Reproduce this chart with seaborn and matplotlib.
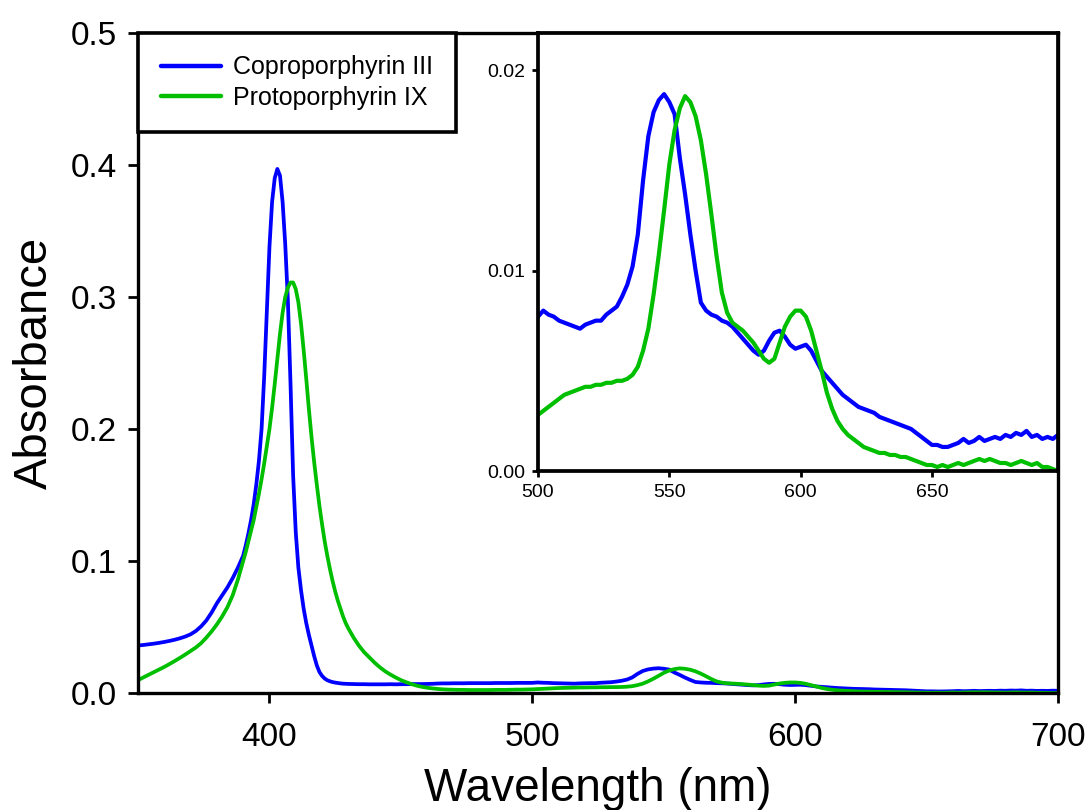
import numpy as np
import pandas as pd
import matplotlib
matplotlib.use("Agg")
import matplotlib.pyplot as plt
import seaborn as sns

# ---------------- data ----------------
wavelength = np.concatenate([
    np.arange(350, 391, 2),   # 21 pts
    np.arange(391, 431, 1),   # 40 pts
    np.arange(432, 499, 2),   # 34 pts
    np.arange(500, 701, 2),   # 101 pts
])

copro_iii = [
    # 350-390 (step 2)
    0.0360, 0.0364, 0.0369, 0.0374, 0.0380, 0.0387, 0.0395, 0.0404, 0.0415, 0.0428,
    0.0445, 0.0470, 0.0505, 0.0550, 0.0610, 0.0680, 0.0740, 0.0800, 0.0870, 0.0950,
    0.1040,
    # 391-430 (step 1)
    0.112, 0.121, 0.131, 0.143, 0.158, 0.176, 0.200, 0.240, 0.290, 0.338,
    0.372, 0.390, 0.397, 0.392, 0.372, 0.340, 0.298, 0.235, 0.165, 0.122,
    0.095, 0.078, 0.064, 0.053, 0.044, 0.036, 0.028, 0.021, 0.016, 0.013,
    0.011, 0.0097, 0.0089, 0.0083, 0.0079, 0.0076, 0.0073, 0.0071, 0.0070, 0.0069,
    # 432-498 (step 2)
    0.0068, 0.0067, 0.0067, 0.0066, 0.0066, 0.0066, 0.0066, 0.0067, 0.0066, 0.0067,
    0.0067, 0.0068, 0.0068, 0.0068, 0.0069, 0.0070, 0.0072, 0.0073, 0.0073, 0.0074,
    0.0074, 0.0074, 0.0075, 0.0075, 0.0075, 0.0075, 0.0075, 0.0076, 0.0076, 0.0076,
    0.0076, 0.0077, 0.0077, 0.0077,
    # 500-700 (step 2)
    0.0077, 0.0080, 0.0078, 0.0077, 0.0075, 0.0074, 0.0073, 0.0072, 0.0071, 0.0073,
    0.0074, 0.0075, 0.0075, 0.0078, 0.0080, 0.0082, 0.0087, 0.0093, 0.0102, 0.0118,
    0.0145, 0.0167, 0.0179, 0.0185, 0.0188, 0.0184, 0.0178, 0.0156, 0.0138, 0.0118,
    0.0100, 0.0084, 0.0080, 0.0078, 0.0077, 0.0075, 0.0074, 0.0072, 0.0069, 0.0066,
    0.0063, 0.0060, 0.0058, 0.0060, 0.0065, 0.0069, 0.0070, 0.0067, 0.0063, 0.0061,
    0.0062, 0.0063, 0.0060, 0.0055, 0.0050, 0.0047, 0.0044, 0.0041, 0.0038, 0.0036,
    0.0034, 0.0032, 0.0031, 0.0030, 0.0029, 0.0027, 0.0026, 0.0025, 0.0024, 0.0023,
    0.0022, 0.0021, 0.0019, 0.0017, 0.0015, 0.0013, 0.0013, 0.0012, 0.0012, 0.0013,
    0.0014, 0.0016, 0.0014, 0.0015, 0.0017, 0.0015, 0.0016, 0.0017, 0.0016, 0.0018,
    0.0017, 0.0019, 0.0018, 0.0020, 0.0017, 0.0018, 0.0016, 0.0017, 0.0016, 0.0018,
    0.0017,
]

proto_ix = [
    # 350-390 (step 2)
    0.0098, 0.0118, 0.0138, 0.0158, 0.0178, 0.0198, 0.0220, 0.0243, 0.0267, 0.0292,
    0.0318, 0.0345, 0.0378, 0.0420, 0.0467, 0.0520, 0.0580, 0.0650, 0.0740, 0.0860,
    0.1000,
    # 391-430 (step 1)
    0.107, 0.115, 0.123, 0.131, 0.141, 0.151, 0.162, 0.174, 0.187, 0.200,
    0.216, 0.234, 0.253, 0.272, 0.288, 0.300, 0.307, 0.311, 0.311, 0.306,
    0.296, 0.280, 0.260, 0.238, 0.215, 0.194, 0.175, 0.158, 0.142, 0.128,
    0.115, 0.104, 0.094, 0.085, 0.077, 0.070, 0.064, 0.058, 0.053, 0.049,
    # 432-498 (step 2)
    0.042, 0.036, 0.031, 0.027, 0.023, 0.0195, 0.0165, 0.0140, 0.0118, 0.0098,
    0.0082, 0.0068, 0.0056, 0.0047, 0.0040, 0.0035, 0.0031, 0.0028, 0.0026, 0.0025,
    0.0024, 0.0024, 0.0023, 0.0023, 0.0023, 0.0023, 0.0023, 0.0024, 0.0024, 0.0024,
    0.0025, 0.0026, 0.0026, 0.0027,
    # 500-700 (step 2)
    0.0028, 0.0030, 0.0032, 0.0034, 0.0036, 0.0038, 0.0039, 0.0040, 0.0041, 0.0042,
    0.0042, 0.0043, 0.0043, 0.0044, 0.0044, 0.0045, 0.0045, 0.0046, 0.0048, 0.0052,
    0.0060, 0.0071, 0.0088, 0.0108, 0.0130, 0.0153, 0.0170, 0.0181, 0.0187, 0.0184,
    0.0177, 0.0165, 0.0148, 0.0128, 0.0107, 0.0089, 0.0079, 0.0074, 0.0072, 0.0070,
    0.0067, 0.0064, 0.0060, 0.0056, 0.0054, 0.0056, 0.0064, 0.0072, 0.0077, 0.0080,
    0.0080, 0.0077, 0.0070, 0.0060, 0.0050, 0.0039, 0.0031, 0.0025, 0.0021, 0.0018,
    0.0016, 0.0014, 0.0012, 0.0011, 0.0010, 0.0009, 0.0009, 0.0008, 0.0008, 0.0007,
    0.0007, 0.0006, 0.0005, 0.0004, 0.0003, 0.0003, 0.0002, 0.0003, 0.0002, 0.0003,
    0.0004, 0.0003, 0.0004, 0.0005, 0.0006, 0.0005, 0.0006, 0.0005, 0.0004, 0.0004,
    0.0003, 0.0004, 0.0005, 0.0004, 0.0003, 0.0004, 0.0002, 0.0002, 0.0001, 0.0000,
    0.0000,
]

series_names = ["Coproporphyrin III", "Protoporphyrin IX"]
series_colors = ["#0000FF", "#00BF00"]

main_xticks = [400, 500, 600, 700]
main_yticks = [0.0, 0.1, 0.2, 0.3, 0.4, 0.5]
inset_xticks = [500, 550, 600, 650]
inset_yticks = [0.00, 0.01, 0.02]

assert len(copro_iii) == len(wavelength) == len(proto_ix)

df = pd.DataFrame({
    "Wavelength": np.concatenate([wavelength, wavelength]),
    "Absorbance": np.concatenate([copro_iii, proto_ix]),
    "Sample": [series_names[0]] * len(wavelength) + [series_names[1]] * len(wavelength),
})

# ---------------- style ----------------
sns.set_theme(style="ticks")
plt.rcParams["font.family"] = ["Liberation Sans", "DejaVu Sans"]
plt.rcParams["text.color"] = "black"
plt.rcParams["axes.labelcolor"] = "black"

LW = 2.7
palette = dict(zip(series_names, series_colors))

fig = plt.figure(figsize=(10.92, 8.10), dpi=100)
ax = fig.add_axes([0.1264, 0.1444, 0.8425, 0.8149])

sns.lineplot(data=df, x="Wavelength", y="Absorbance", hue="Sample",
             palette=palette, estimator=None, sort=False, linewidth=LW, ax=ax)

ax.set_xlim(350, 700)
ax.set_ylim(0, 0.5)
ax.set_xticks(main_xticks)
ax.set_yticks(main_yticks)
ax.set_yticklabels([f"{v:.1f}" for v in main_yticks])
ax.tick_params(axis="both", direction="out", length=7, width=2, labelsize=24,
               color="black", labelcolor="black", pad=8)
ax.tick_params(axis="x", pad=14)
for s in ax.spines.values():
    s.set_visible(True)
    s.set_linewidth(2.4)
    s.set_color("black")
ax.set_xlabel("Wavelength (nm)", fontsize=33, labelpad=10, color="black")
ax.set_ylabel("Absorbance", fontsize=34, labelpad=10, color="black")

leg = ax.legend(loc="upper left", bbox_to_anchor=(0, 1), borderaxespad=0,
                fontsize=18, frameon=True, fancybox=False, handlelength=2.4,
                handletextpad=0.5, borderpad=0.9, labelspacing=0.25)
leg.get_frame().set_edgecolor("black")
leg.get_frame().set_linewidth(2.6)
leg.get_frame().set_facecolor("white")
leg.get_frame().set_alpha(1)
for h in leg.get_lines():
    h.set_linewidth(3.2)

# ---------------- inset ----------------
ax_in = fig.add_axes([0.4927, 0.4185, 0.4762, 0.5408])
sub = df[df["Wavelength"] >= 500]
sns.lineplot(data=sub, x="Wavelength", y="Absorbance", hue="Sample",
             palette=palette, estimator=None, sort=False, linewidth=LW + 0.3,
             ax=ax_in, legend=False)
ax_in.set_xlim(500, 698)
ax_in.set_ylim(0, 0.02185)
ax_in.set_xticks(inset_xticks)
ax_in.set_yticks(inset_yticks)
ax_in.set_yticklabels([f"{v:.2f}" for v in inset_yticks])
ax_in.tick_params(axis="both", direction="out", length=4, width=2, labelsize=14,
                  color="black", labelcolor="black", pad=5)
ax_in.set_xlabel("")
ax_in.set_ylabel("")
ax_in.set_facecolor("white")
for s in ax_in.spines.values():
    s.set_visible(True)
    s.set_linewidth(2.7)
    s.set_color("black")

fig.savefig("out.png", dpi=100)
